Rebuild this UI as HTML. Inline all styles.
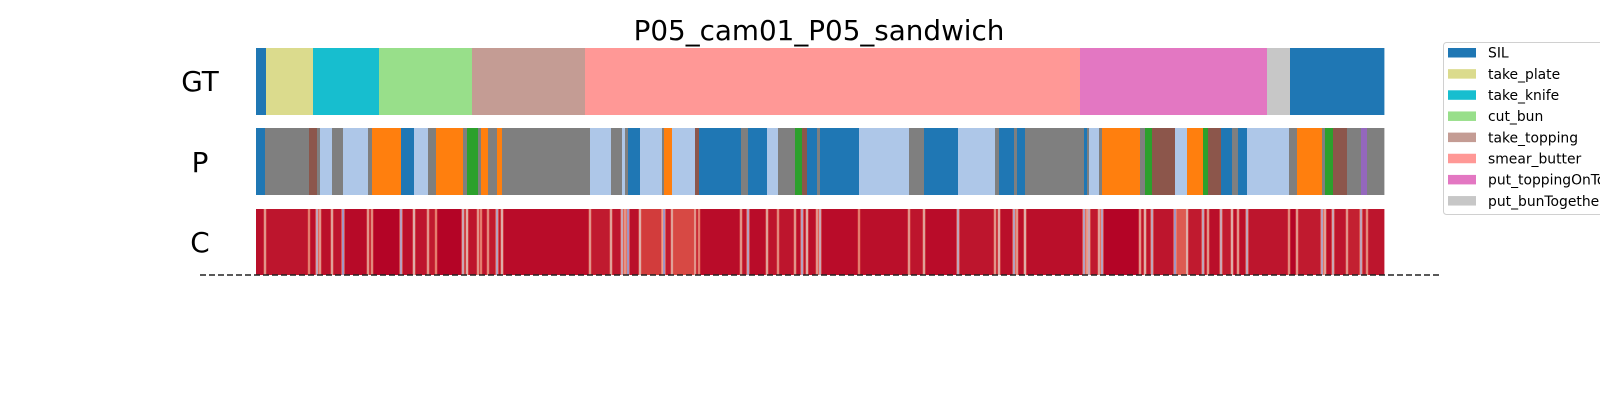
<!DOCTYPE html>
<html><head><meta charset="utf-8">
<style>
html,body{margin:0;padding:0;background:#fff;}
svg{display:block;}
text{font-family:"DejaVu Sans","Liberation Sans",sans-serif;fill:#000;}
</style></head>
<body>
<svg id="chart" width="1600" height="400" viewBox="0 0 1600 400" xmlns="http://www.w3.org/2000/svg">
  <text x="819" y="40" font-size="27.8" text-anchor="middle">P05_cam01_P05_sandwich</text>
  <text x="200" y="91" font-size="27.8" text-anchor="middle">GT</text>
  <text x="200" y="172" font-size="27.8" text-anchor="middle">P</text>
  <text x="200" y="252" font-size="27.8" text-anchor="middle">C</text>
  <g id="gt"></g>
  <g id="pred"></g>
  <g id="conf"></g>
  <line x1="200" y1="275" x2="1440" y2="275" stroke="#222" stroke-width="1.5" stroke-dasharray="6,3"/>
  <g>
    <rect x="1443.5" y="42.5" width="170" height="172" rx="3" fill="#fff" stroke="#d0d0d0" stroke-width="1"/>
    <g id="legend-items"></g>
  </g>
</svg>
<script>
// ---- data ----
const totalFrames = 1128;
const gtLabels = ["SIL","take_plate","take_knife","cut_bun","take_topping","smear_butter","put_toppingOnTop","put_bunTogether","SIL"];
const gtStarts = [0,10,57,123,216,329,824,1011,1034];
const predClasses = ["blue","gray","brown","gray","lb","gray","lb","gray","orange","blue","lb","gray","orange","gray","green","gray","orange","gray","orange","gray","lb","gray","lb","gray","blue","lb","gray","orange","lb","brown","blue","gray","blue","lb","gray","green","brown","blue","gray","blue","lb","gray","blue","lb","gray","blue","gray","blue","gray","blue","gray","lb","gray","orange","gray","green","brown","lb","orange","green","brown","blue","gray","blue","lb","gray","orange","gray","green","brown","gray","purple","gray"];
const predStarts = [0,9,53,61,64,76,87,112,116,145,158,172,180,207,211,222,225,232,241,246,334,355,366,369,372,384,406,408,416,439,443,485,492,511,522,539,546,551,561,564,603,653,668,702,739,743,758,761,769,828,831,833,843,846,884,889,896,919,931,947,952,965,976,982,991,1033,1041,1066,1069,1077,1091,1105,1111];
const segConf = [0.98,0.97,0.98,0.96,0.98,0.97,0.99,0.96,1.0,0.98,0.97,0.96,1.0,0.96,0.97,0.96,0.97,0.96,0.97,0.985,0.96,0.97,0.93,0.93,0.98,0.9,0.93,0.96,0.88,0.96,0.985,0.97,0.985,0.97,0.97,0.98,0.97,0.98,0.96,0.985,0.98,0.97,0.985,0.97,0.97,0.98,0.96,0.98,0.98,0.96,0.96,0.96,0.96,1.0,0.97,0.97,0.97,0.85,0.96,0.97,0.98,0.96,0.98,0.98,0.97,1.0,0.96,0.98,0.98,0.97,0.95,0.96,0.97];
const boundaryConf = [0.6,0.7,0.35,0.6,0.55,0.2,0.6,0.65,0.3,0.5,0.6,0.7,0.4,0.5,0.6,0.7,0.65,0.3,0.5,0.6,0.55,0.4,0.6,0.2,0.5,0.7,0.2,0.55,0.6,0.7,0.6,0.3,0.55,0.65,0.6,0.3,0.5,0.6,0.4,0.7,0.6,0.55,0.35,0.6,0.5,0.3,0.6,0.5,0.3,0.6,0.4,0.55,0.3,0.6,0.5,0.35,0.2,0.5,0.35,0.6,0.4,0.5,0.6,0.35,0.65,0.6,0.3,0.55,0.4,0.6,0.35,0.65];
const legendLabels = ["SIL","take_plate","take_knife","cut_bun","take_topping","smear_butter","put_toppingOnTop","put_bunTogether"];

const gtColors = {"SIL":"#1f77b4","take_plate":"#dbdb8d","take_knife":"#17becf","cut_bun":"#98df8a","take_topping":"#c49c94","smear_butter":"#ff9896","put_toppingOnTop":"#e377c2","put_bunTogether":"#c7c7c7"};
const predColors = {"blue":"#1f77b4","gray":"#7f7f7f","brown":"#8c564b","lb":"#aec7e8","orange":"#ff7f0e","green":"#2ca02c","purple":"#9467bd"};

// ---- axes ----
const X0 = 256, X1 = 1384;
const xScale = f => X0 + (f / totalFrames) * (X1 - X0);
const NS = "http://www.w3.org/2000/svg";
function mk(tag){ return document.createElementNS(NS, tag); }

function coolwarm(v){
  const stops = [[0,[59,76,192]],[0.25,[124,159,249]],[0.5,[221,221,221]],[0.75,[244,154,123]],[0.9,[210,60,60]],[1,[180,4,38]]];
  v = Math.max(0, Math.min(1, v));
  for (let i = 1; i < stops.length; i++){
    if (v <= stops[i][0]){
      const a = stops[i-1], b = stops[i], t = (v - a[0]) / (b[0] - a[0]);
      const c = a[1].map((x,k) => Math.round(x + (b[1][k]-x)*t));
      return "rgb(" + c.join(",") + ")";
    }
  }
  return "rgb(180,4,38)";
}

// GT row
const gtG = document.getElementById("gt");
gtLabels.forEach((lab, i) => {
  const s = gtStarts[i], e = i + 1 < gtStarts.length ? gtStarts[i+1] : totalFrames;
  const r = mk("rect");
  r.setAttribute("x", xScale(s)); r.setAttribute("width", xScale(e) - xScale(s) + 0.4);
  r.setAttribute("y", 48); r.setAttribute("height", 67);
  r.setAttribute("fill", gtColors[lab]);
  
  
  gtG.appendChild(r);
});

// Prediction row
const pG = document.getElementById("pred");
predClasses.forEach((c, i) => {
  const s = predStarts[i], e = i + 1 < predStarts.length ? predStarts[i+1] : totalFrames;
  const r = mk("rect");
  r.setAttribute("x", xScale(s)); r.setAttribute("width", xScale(e) - xScale(s) + 0.4);
  r.setAttribute("y", 128); r.setAttribute("height", 67);
  r.setAttribute("fill", predColors[c]);
  
  
  pG.appendChild(r);
});

// Confidence row
const cG = document.getElementById("conf");
segConf.forEach((v, i) => {
  const s = predStarts[i], e = i + 1 < predStarts.length ? predStarts[i+1] : totalFrames;
  const r = mk("rect");
  r.setAttribute("x", xScale(s)); r.setAttribute("width", xScale(e) - xScale(s) + 0.4);
  r.setAttribute("y", 209); r.setAttribute("height", 66);
  r.setAttribute("fill", coolwarm(v));
  
  
  cG.appendChild(r);
});
boundaryConf.forEach((v, i) => {
  const f = predStarts[i+1];
  if (f === undefined) return;
  const halo = mk("rect");
  halo.setAttribute("x", xScale(f) - 1.5); halo.setAttribute("width", 3);
  halo.setAttribute("y", 209); halo.setAttribute("height", 66);
  halo.setAttribute("fill", coolwarm((v + 2) / 3));
  
  
  cG.appendChild(halo);
  const r = mk("rect");
  r.setAttribute("x", xScale(f) - 0.6); r.setAttribute("width", 1.2);
  r.setAttribute("y", 209); r.setAttribute("height", 66);
  r.setAttribute("fill", coolwarm(v));
  
  
  cG.appendChild(r);
});

// Legend
const lg = document.getElementById("legend-items");
legendLabels.forEach((lab, i) => {
  const cy = 52.7 + i * 21.15;
  const r = mk("rect");
  r.setAttribute("x", 1448); r.setAttribute("y", cy - 4.7);
  r.setAttribute("width", 28); r.setAttribute("height", 9.5);
  r.setAttribute("fill", gtColors[lab]);
  
  
  lg.appendChild(r);
  const t = mk("text");
  t.setAttribute("x", 1488); t.setAttribute("y", cy + 5);
  t.setAttribute("font-size", "13.9");
  t.textContent = lab;
  
  
  lg.appendChild(t);
});
</script>
</body></html>
